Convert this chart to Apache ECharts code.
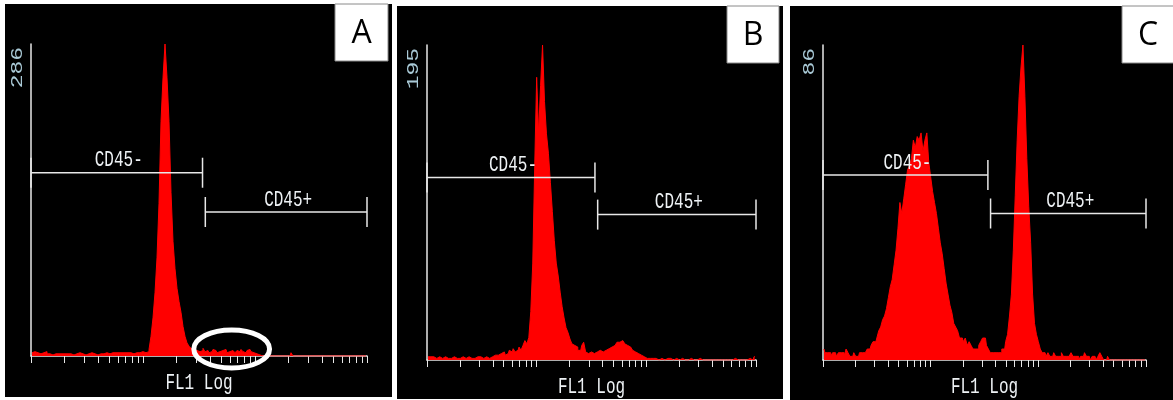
<!DOCTYPE html>
<html><head><meta charset="utf-8">
<script src="https://cdn.jsdelivr.net/npm/echarts@6/dist/echarts.min.js"></script>
<style>html,body{margin:0;padding:0;background:#fff}#c{width:1173px;height:400px}</style>
</head><body><div id="c"></div>
<script>
// ---------- data ----------
const panelLetters = ['A', 'B', 'C'];
const yMaxLabels = [286, 195, 86];
const xAxisName = 'FL1 Log';
const xMin = 1, xMax = 1000;
const tickValues = [1,2,3,4,5,6,7,8,9,10,20,30,40,50,60,70,80,90,100,200,300,400,500,600,700,800,900,1000];
const gateNames = ['CD45-', 'CD45+'];
const gateRanges = [[1, 34], [36, 1000]];
const gateLevelsA = [168, 132];
const gateLevelsB = [113, 90];
const gateLevelsC = [50.5, 40];
const highlightA = [27, 142, 6]; // FL1 from, FL1 to, count level

const countsA = [3,4,4,3,2,2,3,4,
  2,2,1,2,2,2,1,2,2,3,2,2,
  2,1,2,2,3,2,2,1,2,2,3,2,2,1,2,2,2,3,2,2,
  3,2,3,3,2,3,3,2,3,3,3,2,3,3,3,4,3,3,4,
  6,18,35,58,90,140,215,255,286,255,215,150,105,80,62,50,40,27,18,12,9,7,6,
  5,6,4,5,7,4,5,3,4,6,5,3,4,5,4,6,3,4,5,4,3,5,4,6,4,3,5,6,4,3,2,
  1,1,0,1,0,0,1,0,
  0,0,0,0,0,0,0,0,0,
  3,
  0,0,0,0,0,0,0,0,0,0,0,0,0,0,0,0,0,0,0,0,0,0,0,0,0,0,0,0,0,0,0,0,0,0,0,0,0];

const countsB = [2,2,1,2,1,1,2,1,1,2,1,1,1,2,1,1,1,1,2,1,1,2,1,1,1,2,1,2,1,2,2,1,2,
  2,3,2,3,4,3,5,3,4,6,5,7,5,6,8,6,9,
  12,10,14,30,60,120,175,140,170,195,160,140,128,110,92,74,60,52,42,33,26,20,17,13,10,9,8,6,6,9,11,5,
  4,5,6,4,5,4,6,5,4,6,7,6,
  8,9,10,11,11,12,11,10,9,8,7,6,5,4,3,3,2,2,
  1,1,2,1,1,1,0,1,1,0,1,0,1,0,0,1,0,0,1,0,0,0,1,0,0,0,0,1,0,0,0,0,1,0,0,0,0,0,1,0,0,0,0,0,0,1,0,0,0,0,0,0,1,0,0,2];

const countsC = [3,2,2,2,1,2,2,1,2,2,2,1,3,2,1,1,2,1,1,2,2,2,2,3,
  3,4,5,5,6,8,9,11,12,14,17,20,22,26,30,36,43,40,44,48,52,53,55,60,58,61,60,62,57,60,62,54,50,46,43,40,
  36,32,29,25,21,18,15,13,10,9,8,6,6,5,6,4,5,4,3,3,3,4,5,6,6,4,3,2,2,2,2,2,2,3,3,
  5,7,12,18,30,45,60,72,80,86,72,55,42,32,18,10,7,5,3,2,
  2,1,2,1,1,2,1,1,1,2,1,1,1,1,2,1,1,1,0,1,1,2,1,1,0,1,1,0,1,2,1,0,0,1,0,0,0,0,0,0,0,0,0,0,0,0,0,0,0,0,0,0,0];

// ---------- layout (pixels) ----------
const grids = [
  {left: 31, top: 44, width: 336, height: 312},
  {left: 427, top: 45, width: 329, height: 315},
  {left: 823, top: 45, width: 323, height: 315}
];
const panelsBg = [
  {x: 5, y: 4, w: 387, h: 393},
  {x: 397, y: 6, w: 386, h: 393},
  {x: 790, y: 6, w: 383, h: 394}
];
const letterBoxes = [
  {x: 335, y: 4, w: 53, h: 57},
  {x: 727, y: 6, w: 52, h: 57},
  {x: 1122, y: 6, w: 52, h: 57}
];

const LG = Math.log10;
const lo = LG(xMin), hi = LG(xMax);
function toSeries(arr) {
  const n = arr.length, step = (hi - lo) / n;
  return arr.map((v, i) => [lo + (i + 0.5) * step, v]);
}
const allCounts = [countsA, countsB, countsC];
const allGates = [gateLevelsA, gateLevelsB, gateLevelsC];

const txtCol = '#eef2f5';
const lineCol = '#e8e8e8';
const mono = '"Liberation Mono", "DejaVu Sans Mono", monospace';
const STRETCH = 1.35; // glyphs of the instrument font are tall

const option = {
  backgroundColor: '#ffffff',
  animation: false,
  graphic: [],
  grid: grids.map(g => Object.assign({containLabel: false}, g)),
  xAxis: grids.map((g, k) => ({
    gridIndex: k, type: 'value', min: lo, max: hi,
    axisLine: {lineStyle: {color: lineCol, width: 1.5}},
    axisTick: {show: true, length: 7, customValues: tickValues.map(LG), lineStyle: {color: lineCol, width: 1}},
    axisLabel: {show: false},
    splitLine: {show: false}
  })),
  yAxis: grids.map((g, k) => ({
    gridIndex: k, type: 'value', min: 0, max: yMaxLabels[k],
    axisLine: {show: true, lineStyle: {color: lineCol, width: 1.5}},
    axisTick: {show: false},
    splitLine: {show: false},
    axisLabel: {show: false}
  })),
  series: []
};

// backgrounds & letter boxes
panelsBg.forEach(p => option.graphic.push({type: 'rect', z: -10, silent: true,
  shape: {x: p.x, y: p.y, width: p.w, height: p.h}, style: {fill: '#000'}}));
letterBoxes.forEach((b, k) => {
  option.graphic.push({type: 'rect', z: 100, shape: {x: b.x, y: b.y, width: b.w, height: b.h},
    style: {fill: '#fff', stroke: '#8a8a8a', lineWidth: 1}});
  option.graphic.push({type: 'text', z: 101, x: b.x + b.w / 2, y: b.y + b.h / 2 + 1,
    style: {text: panelLetters[k], fill: '#000', font: '32px "Open Sans", "Noto Sans", sans-serif', textAlign: 'center', textVerticalAlign: 'middle'}});
});

// histograms
allCounts.forEach((arr, k) => {
  option.series.push({
    type: 'line', xAxisIndex: k, yAxisIndex: k, data: toSeries(arr), step: 'middle',
    showSymbol: false, symbol: 'none', z: 2,
    lineStyle: {color: '#ff0000', width: 1},
    areaStyle: {color: '#ff0000', opacity: 1}
  });
});

// axis annotations: x-axis name and y max label (instrument style text)
yMaxLabels.forEach((ymax, k) => {
  option.series.push({
    type: 'custom', xAxisIndex: k, yAxisIndex: k, z: 5,
    data: [[lo, hi, ymax]],
    renderItem: function (params, api) {
      const o = api.coord([api.value(0), 0]);
      const e = api.coord([api.value(1), 0]);
      const top = api.coord([api.value(0), api.value(2)]);
      return {type: 'group', children: [
        {type: 'text', x: (o[0] + e[0]) / 2, y: o[1] + 27, scaleY: STRETCH,
          style: {text: xAxisName, align: 'center', verticalAlign: 'middle', fill: txtCol, font: '16px ' + mono}},
        {type: 'text', x: top[0] - 14, y: top[1] + 3, rotation: Math.PI / 2, scaleX: STRETCH,
          style: {text: String(api.value(2)), align: 'right', verticalAlign: 'middle', fill: '#a9c9d6', font: '17px ' + mono}}
      ]};
    }
  });
});

// gates
allGates.forEach((levels, k) => {
  option.series.push({
    type: 'custom', xAxisIndex: k, yAxisIndex: k, z: 5,
    data: gateRanges.map((r, j) => [LG(r[0]), LG(r[1]), levels[j], j]),
    renderItem: function (params, api) {
      const p0 = api.coord([api.value(0), api.value(2)]);
      const p1 = api.coord([api.value(1), api.value(2)]);
      const cap = 15;
      const st = {stroke: lineCol, lineWidth: 1.5};
      return {type: 'group', children: [
        {type: 'line', shape: {x1: p0[0], y1: p0[1], x2: p1[0], y2: p1[1]}, style: st},
        {type: 'line', shape: {x1: p0[0], y1: p0[1] - cap, x2: p0[0], y2: p0[1] + cap}, style: st},
        {type: 'line', shape: {x1: p1[0], y1: p1[1] - cap, x2: p1[0], y2: p1[1] + cap}, style: st},
        {type: 'text', x: (p0[0] + p1[0]) / 2 + 2, y: p0[1] - 12, scaleY: STRETCH,
          style: {text: gateNames[api.value(3)], align: 'center', verticalAlign: 'middle', fill: txtCol, font: '16px ' + mono}}
      ]};
    }
  });
});

// highlight ellipse on panel A
option.series.push({
  type: 'custom', xAxisIndex: 0, yAxisIndex: 0, z: 6,
  data: [[LG(highlightA[0]), LG(highlightA[1]), highlightA[2]]],
  renderItem: function (params, api) {
    const a = api.coord([api.value(0), api.value(2)]);
    const b = api.coord([api.value(1), api.value(2)]);
    const cx = (a[0] + b[0]) / 2, cy = a[1] - 0.5, rx = (b[0] - a[0]) / 2 - 2.5, ry = 19;
    const d = `M ${cx - rx} ${cy} A ${rx} ${ry} 0 1 0 ${cx + rx} ${cy} A ${rx} ${ry} 0 1 0 ${cx - rx} ${cy} Z`;
    return {type: 'path', shape: {pathData: d}, style: {fill: 'none', stroke: '#ffffff', lineWidth: 5}};
  }
});

const chart = echarts.init(document.getElementById('c'), null, {renderer: 'canvas'});
chart.setOption(option);
</script></body></html>
